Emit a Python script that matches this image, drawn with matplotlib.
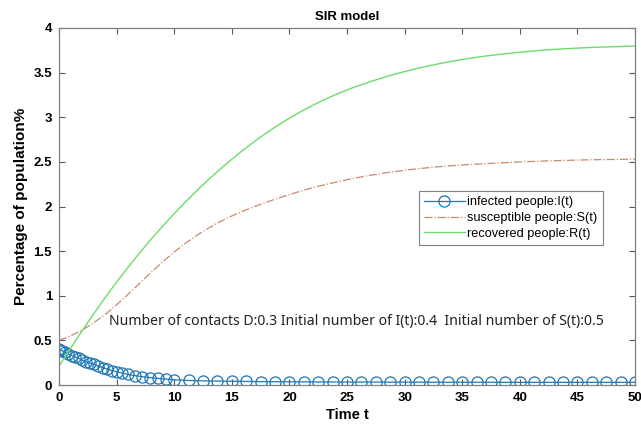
import matplotlib
matplotlib.use("Agg")
import matplotlib.pyplot as plt

# ---- data ----
t_R = [0, 1, 2, 3, 4, 5, 6, 7, 8, 9, 10, 11, 12, 13, 14, 15, 16, 17, 18, 19, 20,
       21, 22, 23, 24, 25, 26, 27, 28, 29, 30, 31, 32, 33, 34, 35, 36, 37, 38, 39, 40,
       41, 42, 43, 44, 45, 46, 47, 48, 49, 50]
recovered = [0.21, 0.41, 0.605, 0.795, 0.978, 1.153, 1.321, 1.481, 1.634, 1.78, 1.92,
             2.054, 2.182, 2.304, 2.42, 2.53, 2.634, 2.732, 2.824, 2.91, 2.99, 3.064,
             3.132, 3.195, 3.253, 3.306, 3.354, 3.398, 3.439, 3.477, 3.512, 3.544, 3.573,
             3.60, 3.625, 3.647, 3.667, 3.685, 3.701, 3.715, 3.728, 3.74, 3.751, 3.76,
             3.768, 3.775, 3.781, 3.786, 3.79, 3.794, 3.797]
susceptible = [0.50, 0.55, 0.615, 0.695, 0.79, 0.898, 1.016, 1.139, 1.262, 1.38, 1.49,
               1.59, 1.68, 1.76, 1.831, 1.894, 1.95, 2.001, 2.048, 2.092, 2.134, 2.173,
               2.209, 2.242, 2.272, 2.30, 2.326, 2.349, 2.37, 2.389, 2.406, 2.421, 2.434,
               2.446, 2.456, 2.465, 2.473, 2.48, 2.487, 2.493, 2.499, 2.504, 2.509, 2.513,
               2.517, 2.52, 2.523, 2.525, 2.527, 2.529, 2.53]

t_I = [0, 0.1, 0.25, 0.5, 0.8, 1.1, 1.4, 1.7, 2.0, 2.35, 2.7, 3.05, 3.4, 3.8, 4.2, 4.6,
       5.0, 5.5, 6.0, 6.6, 7.2, 7.9, 8.6, 9.3, 10.0, 11.25, 12.5, 13.75, 15.0, 16.25, 17.5,
       18.75, 20.0, 21.25, 22.5, 23.75, 25.0, 26.25, 27.5, 28.75, 30.0, 31.25, 32.5, 33.75,
       35.0, 36.25, 37.5, 38.75, 40.0, 41.25, 42.5, 43.75, 45.0, 46.25, 47.5, 48.75, 50.0]
infected = [0.40, 0.395, 0.385, 0.37, 0.35, 0.33, 0.315, 0.30, 0.28, 0.26, 0.245, 0.23,
            0.21, 0.195, 0.178, 0.162, 0.148, 0.133, 0.118, 0.105, 0.094, 0.083, 0.074,
            0.066, 0.058, 0.051, 0.047, 0.044, 0.042, 0.040, 0.038, 0.037, 0.036, 0.035,
            0.034, 0.034, 0.033, 0.033, 0.033, 0.032, 0.032, 0.032, 0.031, 0.031, 0.031,
            0.031, 0.031, 0.030, 0.030, 0.030, 0.030, 0.030, 0.030, 0.030, 0.030, 0.030, 0.030]

x_ticks = [0, 5, 10, 15, 20, 25, 30, 35, 40, 45, 50]
y_ticks = [0, 0.5, 1, 1.5, 2, 2.5, 3, 3.5, 4]
y_ticklabels = ["0", "0.5", "1", "1.5", "2", "2.5", "3", "3.5", "4"]
note = "Number of contacts D:0.3 Initial number of I(t):0.4  Initial number of S(t):0.5"

fig = plt.figure(figsize=(6.41, 4.30), dpi=100)
ax = fig.add_axes([59 / 641, 45 / 430, 576 / 641, 357 / 430])

ax.plot(t_I, infected, color="#1f77b4", marker="o", markerfacecolor="none",
        markersize=8, markeredgewidth=0.9, linewidth=0.9, label="infected people:I(t)")
ax.plot(t_R, susceptible, color="#c98a6c", linestyle="-.", linewidth=0.9,
        label="susceptible people:S(t)")
ax.plot(t_R, recovered, color="#6cdc6c", linestyle="-", linewidth=1.0,
        label="recovered people:R(t)")

ax.set_xlim(0, 50)
ax.set_ylim(0, 4)
ax.set_xticks(x_ticks)
ax.set_yticks(y_ticks)
ax.set_yticklabels(y_ticklabels)
ax.tick_params(direction="in", top=True, right=True, length=4, width=0.8,
               color="#555555", labelsize=9.5, pad=5)
for lab in ax.get_xticklabels() + ax.get_yticklabels():
    lab.set_fontweight("bold")
    lab.set_family("Liberation Sans")
for sp in ax.spines.values():
    sp.set_color("#808080")
    sp.set_linewidth(0.9)

ax.set_title("SIR model", fontsize=9.5, fontweight="bold", family="Liberation Sans", pad=6)
ax.set_xlabel("Time t", fontsize=10.5, fontweight="bold", family="Liberation Sans", labelpad=3)
ax.set_ylabel("Percentage of population%", fontsize=11, fontweight="bold",
              family="Liberation Sans")
ax.yaxis.set_label_coords(-0.054, 0.5)

ax.text(4.34, 0.71, note, fontsize=10.1, family="Noto Sans", va="center", ha="left",
        color="#222222")

leg = ax.legend(loc="upper right", bbox_to_anchor=(0.944, 0.543),
                frameon=True, fancybox=False, edgecolor="#808080", framealpha=1,
                borderpad=0.4, labelspacing=0.3, handlelength=3.2, handletextpad=0.2,
                borderaxespad=0, prop={"family": "Liberation Sans", "size": 9.2})
leg.get_frame().set_linewidth(0.8)

fig.savefig("out.png", dpi=100)
